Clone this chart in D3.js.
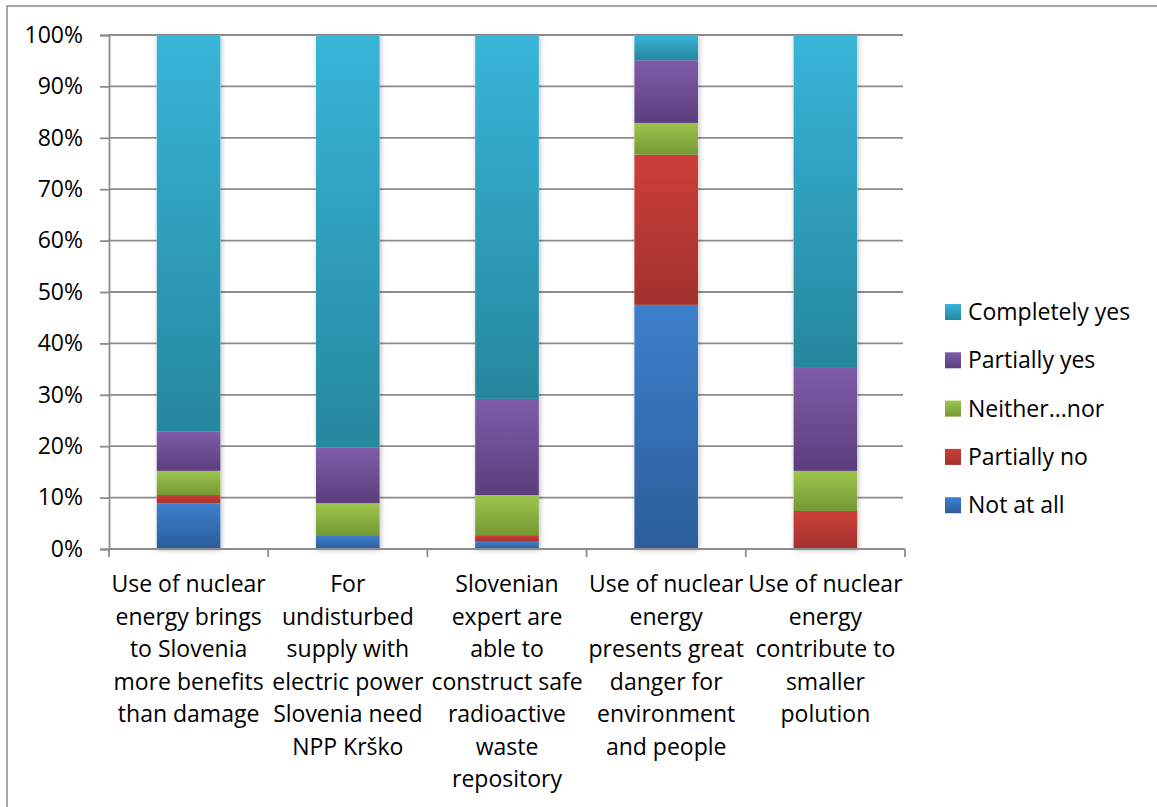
<!DOCTYPE html>
<html>
<head>
<meta charset="utf-8">
<script src="https://cdn.jsdelivr.net/npm/d3@7"></script>
<style>
  html, body { margin: 0; padding: 0; background: #fff; }
  svg { display: block; }
  text { font-family: "Open Sans", Lato, sans-serif; fill: #000; }
</style>
</head>
<body>
<svg id="chart" width="1157" height="807"></svg>
<script>
// Survey statements (x categories), one label line per entry
const categories = [
  ["Use of nuclear", "energy brings", "to Slovenia", "more benefits", "than damage"],
  ["For", "undisturbed", "supply with", "electric power", "Slovenia need", "NPP Krško"],
  ["Slovenian", "expert are", "able to", "construct safe", "radioactive", "waste", "repository"],
  ["Use of nuclear", "energy", "presents great", "danger for", "environment", "and people"],
  ["Use of nuclear", "energy", "contribute to", "smaller", "polution"]
];

// Answer shares per statement (percent), stacked bottom to top
const seriesNames = ["Not at all", "Partially no", "Neither...nor", "Partially yes", "Completely yes"];
const notAtAll      = [8.9, 2.7, 1.4, 47.5, 0.0];
const partiallyNo   = [1.6, 0.0, 1.3, 29.2, 7.4];
const neitherNor    = [4.7, 6.2, 7.8, 6.2, 7.8];
const partiallyYes  = [7.6, 10.9, 18.7, 12.2, 20.2];
const completelyYes = [77.2, 80.2, 70.8, 4.9, 64.6];

const yTicks = [0, 10, 20, 30, 40, 50, 60, 70, 80, 90, 100];

// Gradient stops (top, bottom) per answer
const seriesColors = [
  ["#3d80cd", "#2c5d9a"],
  ["#cd3f39", "#a2312e"],
  ["#9dc54d", "#769834"],
  ["#7f5ca9", "#5b3e7d"],
  ["#38b5d9", "#26879e"]
];

const FONT = 23;

const svg = d3.select("#chart");
const margin = { left: 109, right: 905, top: 35, bottom: 549 };

// outer chart frame
svg.append("rect")
  .attr("x", 7).attr("y", 6)
  .attr("width", 1157).attr("height", 900)
  .attr("fill", "none").attr("stroke", "#8a8a8a").attr("stroke-width", 1.5);

const rows = categories.map((c, i) => ({
  idx: i,
  "Not at all": notAtAll[i],
  "Partially no": partiallyNo[i],
  "Neither...nor": neitherNor[i],
  "Partially yes": partiallyYes[i],
  "Completely yes": completelyYes[i]
}));

const stack = d3.stack().keys(seriesNames).offset(d3.stackOffsetExpand);
const stacked = stack(rows);

const x = d3.scaleBand()
  .domain(d3.range(categories.length))
  .range([margin.left, margin.right])
  .paddingInner(0.6).paddingOuter(0.3);

const xOuter = d3.scaleBand()
  .domain(d3.range(categories.length))
  .range([margin.left, margin.right]);

const y = d3.scaleLinear().domain([0, 1]).range([margin.bottom, margin.top]);

const defs = svg.append("defs");
seriesColors.forEach((c, i) => {
  const g = defs.append("linearGradient")
    .attr("id", "grad" + i)
    .attr("x1", 0).attr("y1", 0).attr("x2", 0).attr("y2", 1);
  g.append("stop").attr("offset", "0%").attr("stop-color", c[0]);
  g.append("stop").attr("offset", "100%").attr("stop-color", c[1]);
});
const shadow = defs.append("filter").attr("id", "shadow")
  .attr("x", "-20%").attr("y", "-5%").attr("width", "140%").attr("height", "115%");
shadow.append("feDropShadow")
  .attr("dx", 1).attr("dy", 1).attr("stdDeviation", 2.5)
  .attr("flood-color", "#000").attr("flood-opacity", 0.28);

// gridlines
svg.append("g")
  .selectAll("line")
  .data(yTicks)
  .join("line")
  .attr("x1", margin.left).attr("x2", margin.right - 2)
  .attr("y1", d => y(d / 100)).attr("y2", d => y(d / 100))
  .attr("stroke", "#8c8c8c").attr("stroke-width", 1.8);

// y axis
const yAxis = d3.axisLeft(y)
  .tickValues(yTicks.map(d => d / 100))
  .tickFormat(d => Math.round(d * 100) + "%")
  .tickSize(9).tickPadding(17);
const yg = svg.append("g").attr("transform", `translate(${margin.left},0)`).call(yAxis);
yg.select(".domain").attr("stroke", "#8c8c8c").attr("stroke-width", 1.8);
yg.selectAll(".tick line").attr("stroke", "#8c8c8c").attr("stroke-width", 1.8);
yg.selectAll(".tick text")
  .attr("font-size", FONT).attr("font-family", "'Open Sans', sans-serif").attr("fill", "#000");

// bar shadows underneath segments, one per column
svg.append("g")
  .selectAll("rect")
  .data(rows)
  .join("rect")
  .attr("x", d => x(d.idx)).attr("width", x.bandwidth())
  .attr("y", y(1)).attr("height", y(0) - y(1))
  .attr("fill", "#fff")
  .attr("filter", "url(#shadow)");

// stacked segments
svg.append("g")
  .selectAll("g")
  .data(stacked)
  .join("g")
  .attr("fill", (d, i) => `url(#grad${i})`)
  .selectAll("rect")
  .data(d => d.filter(s => s[1] - s[0] > 0))
  .join("rect")
  .attr("x", d => x(d.data.idx))
  .attr("width", x.bandwidth())
  .attr("y", d => y(d[1]))
  .attr("height", d => y(d[0]) - y(d[1]));

// x axis line with category boundary ticks
svg.append("line")
  .attr("x1", margin.left).attr("x2", margin.right)
  .attr("y1", margin.bottom).attr("y2", margin.bottom)
  .attr("stroke", "#8c8c8c").attr("stroke-width", 1.8);
const bounds = d3.range(categories.length + 1)
  .map(i => i < categories.length ? xOuter(i) : margin.right);
svg.append("g").selectAll("line")
  .data(bounds)
  .join("line")
  .attr("x1", d => d).attr("x2", d => d)
  .attr("y1", margin.bottom).attr("y2", margin.bottom + 8)
  .attr("stroke", "#8c8c8c").attr("stroke-width", 1.8);

// category labels
const labelG = svg.append("g");
categories.forEach((lines, i) => {
  const cx = xOuter(i) + xOuter.bandwidth() / 2;
  const t = labelG.append("text")
    .attr("text-anchor", "middle")
    .attr("font-size", FONT);
  lines.forEach((ln, j) => {
    t.append("tspan")
      .attr("x", cx)
      .attr("y", 592 + j * 32.5)
      .text(ln);
  });
});

// legend, top entry = top of stack
const legendOrder = seriesNames.map((n, i) => ({ name: n, i })).reverse();
const lg = svg.append("g");
const leg = lg.selectAll("g")
  .data(legendOrder)
  .join("g")
  .attr("transform", (d, k) => `translate(945,${312 + k * 48.3})`);
leg.append("rect")
  .attr("x", 0).attr("y", -8).attr("width", 16).attr("height", 16)
  .attr("fill", d => `url(#grad${d.i})`);
leg.append("text")
  .attr("x", 23).attr("y", 8)
  .attr("font-size", FONT)
  .text(d => d.name);
</script>
</body>
</html>
